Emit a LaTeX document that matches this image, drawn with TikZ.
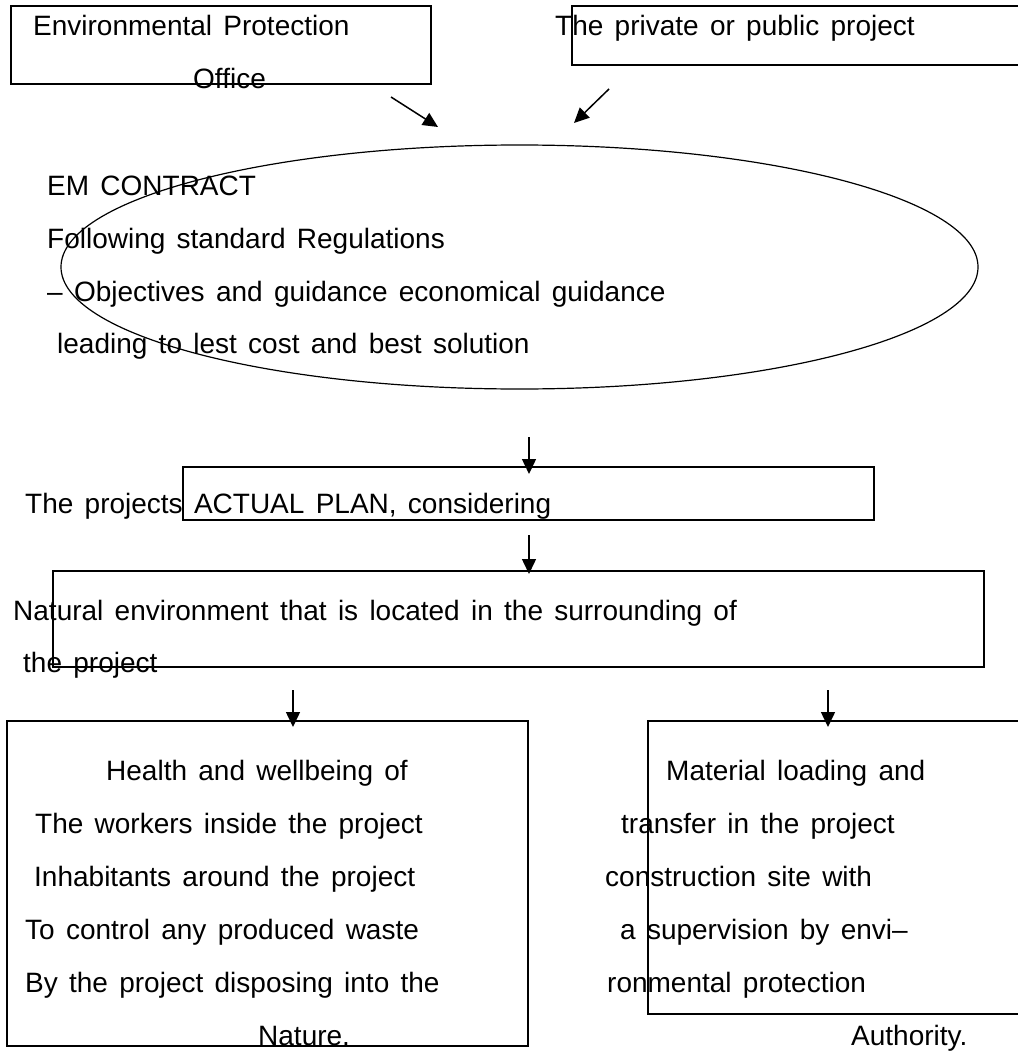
\documentclass[tikz,border=0pt]{standalone}
\usepackage{fontspec}
\setmainfont{Liberation Sans}[WordSpace=1.45]
\usetikzlibrary{arrows.meta,shapes.geometric}

\begin{document}
\begin{tikzpicture}[x=1pt,y=-1pt,
  box/.style={draw=black, line width=1.6pt, inner sep=0pt, anchor=north west},
  txt/.style={anchor=base west, inner sep=0pt, font=\fontsize{28}{28}\selectfont},
  arr/.style={line width=1.5pt, -{Triangle[length=15pt,width=14pt]}}]
\useasboundingbox (0,0) rectangle (1017,1051);

% top row: the two parties
\node[box, minimum width=420pt, minimum height=78pt] (epo) at (10,5) {};
\node[box, minimum width=452pt, minimum height=59pt] (proj) at (571,5) {};
\node[txt] (epoA) at (33,36) {Environmental Protection};
\node[txt] (epoB) at (193,89) {Office};
\node[txt] (projA) at (555,36) {The private or public project};

% the contract
\node[draw=black, line width=1.2pt, ellipse, inner sep=0pt,
      minimum width=917pt, minimum height=244pt] (emc) at (519.5,267) {};
\node[txt] (emcA) at (47,195) {EM CONTRACT};
\node[txt] (emcB) at (47,248) {Following standard Regulations};
\node[txt] (emcC) at (47,301) {– Objectives and guidance economical guidance};
\node[txt] (emcD) at (57,353) {leading to lest cost and best solution};

% plan and surroundings
\node[box, minimum width=691pt, minimum height=53pt] (plan) at (182,466) {};
\node[txt] (planA) at (25,513) {The projects ACTUAL PLAN, considering};
\node[box, minimum width=931pt, minimum height=96pt] (nat) at (52,570) {};
\node[txt] (natA) at (13,620) {Natural environment that is located in the surrounding of};
\node[txt] (natB) at (23,672) {the project};

% the two concerns
\node[box, minimum width=521pt, minimum height=325pt] (hlth) at (6,720) {};
\node[txt] (h1) at (106,780) {Health and wellbeing of};
\node[txt] (h2) at (35,833) {The workers inside the project};
\node[txt] (h3) at (34,886) {Inhabitants around the project};
\node[txt] (h4) at (25,939) {To control any produced waste};
\node[txt] (h5) at (25,992) {By the project disposing into the};
\node[txt] (h6) at (258,1045) {Nature.};

\node[box, minimum width=380pt, minimum height=293pt] (matl) at (647,720) {};
\node[txt] (m1) at (666,780) {Material loading and};
\node[txt] (m2) at (621,833) {transfer in the project};
\node[txt] (m3) at (605,886) {construction site with};
\node[txt] (m4) at (620,939) {a supervision by envi–};
\node[txt] (m5) at (607,992) {ronmental protection};
\node[txt] (m6) at (851,1045) {Authority.};

% connector ends
\coordinate (s1) at (391,97);   \coordinate (e1) at (438,127);
\coordinate (s2) at (609,89);   \coordinate (e2) at (574,123);
\coordinate (s3) at (529,437);  \coordinate (e3) at (529,474);
\coordinate (s4) at (529,535);  \coordinate (e4) at (529,574);
\coordinate (s5) at (293,690);  \coordinate (e5) at (293,727);
\coordinate (s6) at (828,690);  \coordinate (e6) at (828,727);

\draw[arr] (s1) -- (e1);
\draw[arr] (s2) -- (e2);
\draw[arr] (s3) -- (e3);
\draw[arr] (s4) -- (e4);
\draw[arr] (s5) -- (e5);
\draw[arr] (s6) -- (e6);
\end{tikzpicture}
\end{document}
